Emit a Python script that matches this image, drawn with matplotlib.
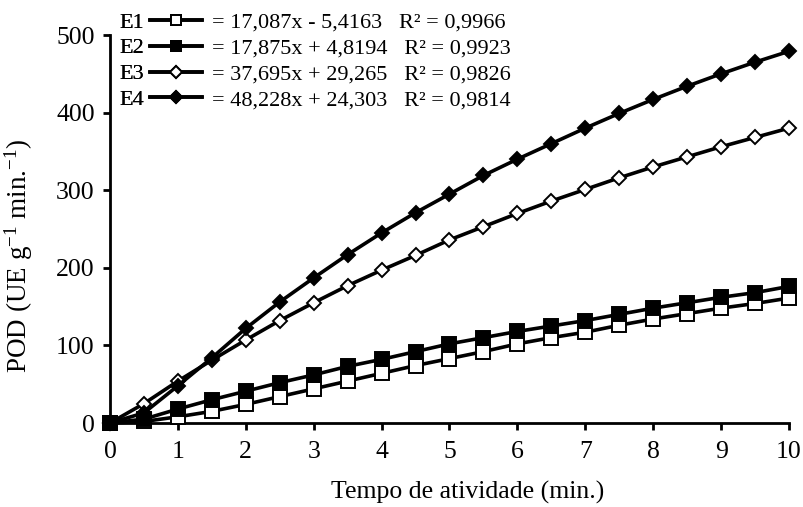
import numpy as np
import matplotlib
matplotlib.use("Agg")
import matplotlib.pyplot as plt

plt.rcParams['font.family'] = ['Liberation Serif', 'DejaVu Serif']
plt.rcParams['mathtext.fontset'] = 'custom'
plt.rcParams['mathtext.rm'] = 'Liberation Serif'
plt.rcParams['mathtext.it'] = 'Liberation Serif:italic'

# Data
tempo = [0, 0.5, 1, 1.5, 2, 2.5, 3, 3.5, 4, 4.5, 5, 5.5, 6, 6.5, 7, 7.5, 8, 8.5, 9, 9.5, 10]
e1 = [0, 2, 8, 15, 24, 34, 44, 54, 64, 74, 83, 92, 102, 110, 117, 126, 134, 141, 148, 154, 161]
e2 = [0, 5, 18, 30, 41, 52, 62, 73, 82, 92, 102, 110, 118, 125, 132, 140, 148, 155, 162, 168, 176]
e3 = [0, 25, 54, 81, 107, 132, 155, 177, 197, 216, 236, 253, 270, 286, 301, 316, 330, 343, 356, 368, 380]
e4 = [0, 13, 48, 84, 122, 156, 187, 217, 245, 271, 295, 319, 340, 360, 380, 399, 417, 434, 450, 465, 479]

nomes = ['E1', 'E2', 'E3', 'E4']
equacoes = ['= 17,087x - 5,4163   R² = 0,9966',
            '= 17,875x + 4,8194   R² = 0,9923',
            '= 37,695x + 29,265   R² = 0,9826',
            '= 48,228x + 24,303   R² = 0,9814']

fig = plt.figure(figsize=(8.04, 5.07), dpi=100)
ax = fig.add_axes([110/804, 1-423/507, 679/804, 388/507])

fs = 18.5   # ticks / x label
fl = 16     # legend
estilos = [dict(marker='s', mfc='white', ms=9.5),
           dict(marker='s', mfc='black', ms=9.5),
           dict(marker='D', mfc='white', ms=7.5),
           dict(marker='D', mfc='black', ms=7.5)]
handles = []
for serie, st in zip([e1, e2, e3, e4], estilos):
    h, = ax.plot(tempo, serie, color='black', lw=2.6, mec='black', mew=1.4,
                 clip_on=False, zorder=3, **st)
    handles.append(h)

ax.set_xlim(0, 10)
ax.set_ylim(0, 500)
ax.set_xticks(range(0, 11))
ax.set_yticks(range(0, 501, 100))
for s in ['top', 'right']:
    ax.spines[s].set_visible(False)
for s in ['left', 'bottom']:
    ax.spines[s].set_linewidth(2)
ax.tick_params(direction='out', length=5, width=2, labelsize=fs)
ax.tick_params(axis='x', pad=8)
ax.tick_params(axis='y', pad=6)

ax.set_xlabel('Tempo de atividade (min.)', fontsize=fs)
ax.set_ylabel('POD (UE g$^{-1}$ min.$^{-1}$)', fontsize=19.5)
ax.xaxis.set_label_coords(0.527, -0.148)
ax.yaxis.set_label_coords(-0.11, 0.43)

# legend: names + glyphs, then equations
leg1 = fig.legend(handles, nomes, loc='upper left', bbox_to_anchor=(119/804, 1-12/507),
                  frameon=False, markerfirst=False, fontsize=fl, handlelength=2.3,
                  handletextpad=0.3, borderpad=0, labelspacing=0.24, borderaxespad=0,
                  markerscale=0.8)
fig.add_artist(leg1)
vazio = [plt.Line2D([], [], color='none') for _ in nomes]
fig.legend(vazio, equacoes, loc='upper left', bbox_to_anchor=(212/804, 1-12/507),
           frameon=False, fontsize=fl, handlelength=0, handletextpad=0,
           borderpad=0, labelspacing=0.24, borderaxespad=0)

fig.savefig('out.png', dpi=100)
